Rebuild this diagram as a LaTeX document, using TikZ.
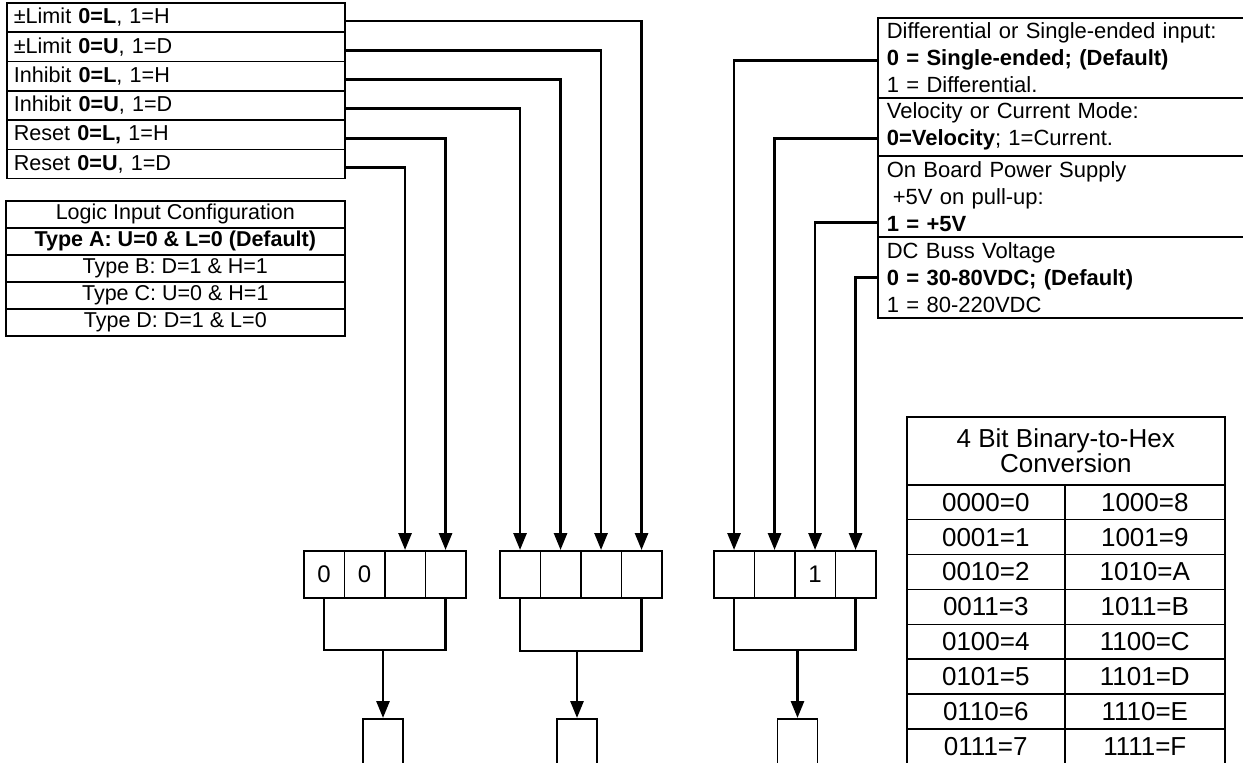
\documentclass[tikz,border=0pt]{standalone}
\usepackage{fontspec}
\setmainfont{Liberation Sans}
\usetikzlibrary{arrows.meta,calc}
\begin{document}
\begin{tikzpicture}[x=1pt,y=-1pt,
  boxline/.style={draw,line width=1.6pt},
  row/.style={boxline,minimum width=338pt,minimum height=29.3pt,text width=324pt,align=left,inner xsep=7pt,inner ysep=0pt,anchor=north west,font=\fontsize{21.6}{25}\selectfont},
  cfg/.style={boxline,minimum width=339pt,minimum height=27pt,inner sep=0pt,anchor=north west,font=\fontsize{21.5}{25}\selectfont},
  rbox/.style={boxline,minimum width=380pt,text width=362pt,align=left,inner xsep=9pt,inner ysep=0pt,anchor=north west,font=\fontsize{22}{27}\selectfont},
  bit/.style={boxline,minimum width=40.5pt,minimum height=47pt,inner sep=0pt,anchor=north west,font=\fontsize{24}{24}\selectfont},
  outbox/.style={boxline,minimum width=40pt,minimum height=70pt,anchor=north},
  hcell/.style={boxline,minimum height=34.875pt,inner sep=0pt,anchor=north west,font=\fontsize{26}{26}\selectfont},
  conn/.style={line width=2.8pt,-{Triangle[length=17pt,width=13pt]}},
  brk/.style={line width=2.8pt}]
\useasboundingbox (0,0) rectangle (1243,763);

% top-left stack
\node[row] (r1) at (6,2) {±Limit \textbf{0=L}, 1=H};
\node[row] (r2) at (6,31.3) {±Limit \textbf{0=U}, 1=D};
\node[row] (r3) at (6,60.6) {Inhibit \textbf{0=L}, 1=H};
\node[row] (r4) at (6,89.9) {Inhibit \textbf{0=U}, 1=D};
\node[row] (r5) at (6,119.2) {Reset \textbf{0=L,} 1=H};
\node[row] (r6) at (6,148.5) {Reset \textbf{0=U}, 1=D};

% logic input configuration
\node[cfg] (c1) at (5,200) {Logic Input Configuration};
\node[cfg] (c2) at (5,227) {\textbf{Type A: U=0 \& L=0 (Default)}};
\node[cfg] (c3) at (5,254) {Type B: D=1 \& H=1};
\node[cfg] (c4) at (5,281) {Type C: U=0 \& H=1};
\node[cfg] (c5) at (5,308) {Type D: D=1 \& L=0};

% right stack
\node[rbox,minimum height=80pt] (R1) at (877,17) {Differential or Single-ended input:\\\textbf{0 = Single-ended; (Default)}\\1 = Differential.};
\node[rbox,minimum height=58pt] (R2) at (877,97) {Velocity or Current Mode:\\\textbf{0=Velocity}; 1=Current.};
\node[rbox,minimum height=81pt] (R3) at (877,155) {On Board Power Supply\\\hspace*{6pt}+5V on pull-up:\\\textbf{1 = +5V}};
\node[rbox,minimum height=81pt] (R4) at (877,236) {DC Buss Voltage\\\textbf{0 = 30-80VDC; (Default)}\\1 = 80-220VDC};

% bit boxes
\node[bit] (b11) at (303,550) {0};
\node[bit] (b12) at (343.5,550) {0};
\node[bit] (b13) at (384,550) {};
\node[bit] (b14) at (424.5,550) {};
\node[bit] (b21) at (499,550) {};
\node[bit] (b22) at (539.5,550) {};
\node[bit] (b23) at (580,550) {};
\node[bit] (b24) at (620.5,550) {};
\node[bit] (b31) at (713,550) {};
\node[bit] (b32) at (753.5,550) {};
\node[bit] (b33) at (794,550) {1};
\node[bit] (b34) at (834.5,550) {};

% output boxes
\node[outbox] (o1) at (383,718) {};
\node[outbox] (o2) at (577,718) {};
\node[outbox] (o3) at (797.5,718) {};

% brackets
\coordinate (k1) at (383,650);
\coordinate (k2) at (577,651);
\coordinate (k3) at (797.5,650);
\draw[brk] (b11.south) |- (k1) -| (b14.south);
\draw[brk] (b21.south) |- (k2) -| (b24.south);
\draw[brk] (b31.south) |- (k3) -| (b34.south);
\draw[conn] (k1) -- (o1.north);
\draw[conn] (k2) -- (o2.north);
\draw[conn] (k3) -- (o3.north);

% left connectors
\draw[conn] ([yshift=-3.5pt]r1.east) -| (b24.north);
\draw[conn] ([yshift=-3.5pt]r2.east) -| (b23.north);
\draw[conn] ([yshift=-3.5pt]r3.east) -| (b22.north);
\draw[conn] ([yshift=-3.5pt]r4.east) -| (b21.north);
\draw[conn] ([yshift=-3.5pt]r5.east) -| (b14.north);
\draw[conn] ([yshift=-3.5pt]r6.east) -| (b13.north);

% right connectors
\draw[conn] ([yshift=-3pt]R1.west) -| (b31.north);
\draw[conn] ([yshift=-12pt]R2.west) -| (b32.north);
\draw[conn] ([yshift=-26.5pt]R3.west) -| (b33.north);
\draw[conn] (R4.west) -| (b34.north);

% hex table
\node[boxline,minimum width=318pt,minimum height=68pt,inner sep=0pt,anchor=north west,align=center,font=\fontsize{26}{25}\selectfont] (hh) at (906,416) {4 Bit Binary-to-Hex\\Conversion};
\foreach \a/\b [count=\i from 0] in {0000=0/1000=8,0001=1/1001=9,0010=2/1010=A,0011=3/1011=B,0100=4/1100=C,0101=5/1101=D,0110=6/1110=E,0111=7/1111=F}{
  \node[hcell,minimum width=158pt] (hl\i) at (906,{484+\i*34.875}) {\a};
  \node[hcell,minimum width=160pt] (hr\i) at (1064,{484+\i*34.875}) {\b};
}
\end{tikzpicture}
\end{document}
